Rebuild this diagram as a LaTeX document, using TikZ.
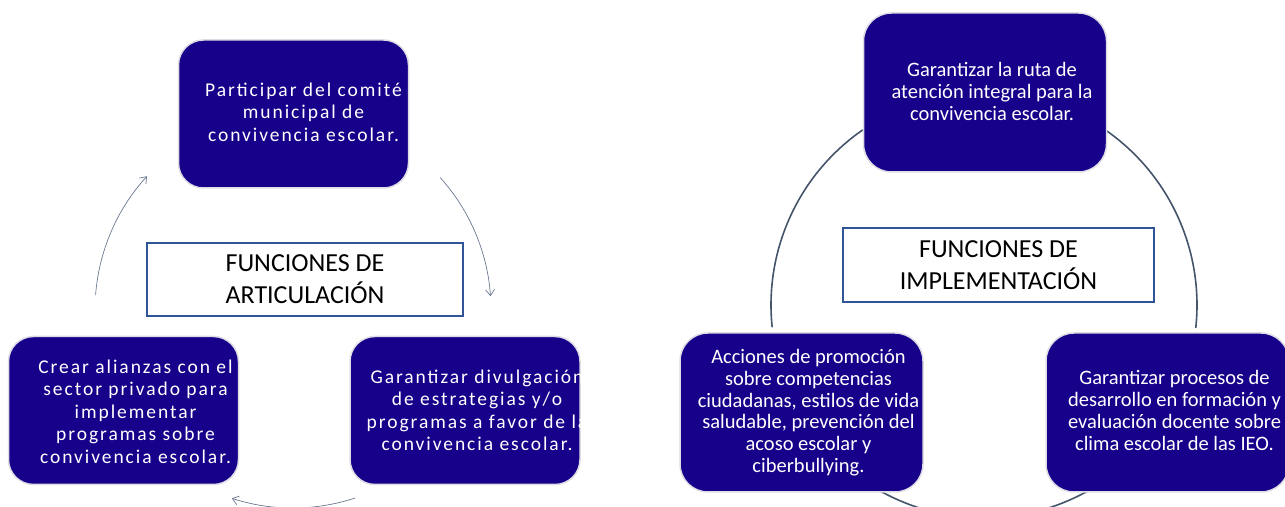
\documentclass[tikz,border=0pt]{standalone}
\usepackage{fontspec}
\setmainfont{Carlito}
\newfontfamily\spacedfont[LetterSpace=10]{Carlito}
\usetikzlibrary{arrows.meta,positioning,calc}
\definecolor{BoxFill}{HTML}{17008A}
\definecolor{BoxEdge}{HTML}{DCDCE4}
\definecolor{TitleEdge}{HTML}{2F5597}
\definecolor{Ring}{HTML}{44546A}
\definecolor{ThinRing}{HTML}{6A7890}

\begin{document}
\begin{tikzpicture}[x=1pt,y=1pt,>={Straight Barb[length=6pt,width=9pt]},
  every node/.style={align=center},
  funcbox/.style={draw=BoxEdge,line width=1.5pt,fill=BoxFill,rounded corners=25pt,minimum width=230pt,minimum height=148pt},
  bigbox/.style={funcbox,rounded corners=28pt,minimum width=243pt,minimum height=159pt},
  spacedtext/.style={text=white,inner sep=0pt,font=\spacedfont\fontsize{19.5}{22.5}\selectfont},
  plaintext/.style={text=white,inner sep=0pt,font=\fontsize{20.5}{21.7}\selectfont},
  titlebox/.style={draw=TitleEdge,line width=2.5pt,fill=white,inner sep=0pt,font=\fontsize{26}{32}\selectfont},
  thinarc/.style={draw=ThinRing,line width=0.7pt},
  ringarc/.style={draw=Ring,line width=1.6pt}]
  \useasboundingbox (0,0) rectangle (1285,506);
  % articulacion
  \coordinate (lc) at (293,196);
  \node[funcbox] (artTop) at (293.5,392) {};
  \node[funcbox] (artLeft) at (123.5,95.5) {};
  \node[funcbox] (artRight) at (465,95.5) {};
  \node[spacedtext] (artTopT) at ($(artTop.center)+(10,2)$) {Participar del comité\\municipal de\\convivencia escolar.};
  \node[spacedtext] (artLeftT) at ($(artLeft.center)+(12,-1)$) {Crear alianzas con el\\sector privado para\\implementar\\programas sobre\\convivencia escolar.};
  \node[spacedtext] (artRightT) at ($(artRight.center)+(12,0)$) {Garantizar divulgación\\de estrategias y/o\\programas a favor de la\\convivencia escolar.};
  \node[titlebox,minimum width=316pt,minimum height=73pt] (artTitle) at (305,226.5) {FUNCIONES DE\\ARTICULACIÓN};
  \draw[thinarc,->] (lc) ++(42:198) arc[start angle=42,end angle=4,radius=198];
  \draw[thinarc,->] (lc) ++(-71.7:198) arc[start angle=-71.7,end angle=-108,radius=198];
  \draw[thinarc,->] (lc) ++(175.7:198) arc[start angle=175.7,end angle=137.5,radius=198];
  % implementacion
  \coordinate (rc) at (984,201);
  \draw[ringarc] (rc) ++(124.7:213) arc[start angle=124.7,end angle=186,radius=213];
  \draw[ringarc] (rc) ++(54.9:213) arc[start angle=54.9,end angle=-6.2,radius=213];
  \draw[ringarc] (rc) ++(-119:213) arc[start angle=-119,end angle=-60.4,radius=213];
  \node[bigbox] (impTop) at (985,413.5) {};
  \node[bigbox] (impLeft) at (801.5,93.5) {};
  \node[bigbox] (impRight) at (1167.5,93.5) {};
  \node[plaintext] (impTopT) at ($(impTop.center)+(7,1)$) {Garantizar la ruta de\\atención integral para la\\convivencia escolar.};
  \node[plaintext] (impLeftT) at ($(impLeft.center)+(7,0)$) {Acciones de promoción\\sobre competencias\\ciudadanas, estilos de vida\\saludable, prevención del\\acoso escolar y\\ciberbullying.};
  \node[plaintext] (impRightT) at ($(impRight.center)+(7,2)$) {Garantizar procesos de\\desarrollo en formación y\\evaluación docente sobre\\clima escolar de las IEO.};
  \node[titlebox,minimum width=311pt,minimum height=74pt] (impTitle) at (998.5,241) {FUNCIONES DE\\IMPLEMENTACIÓN};
\end{tikzpicture}
\end{document}
